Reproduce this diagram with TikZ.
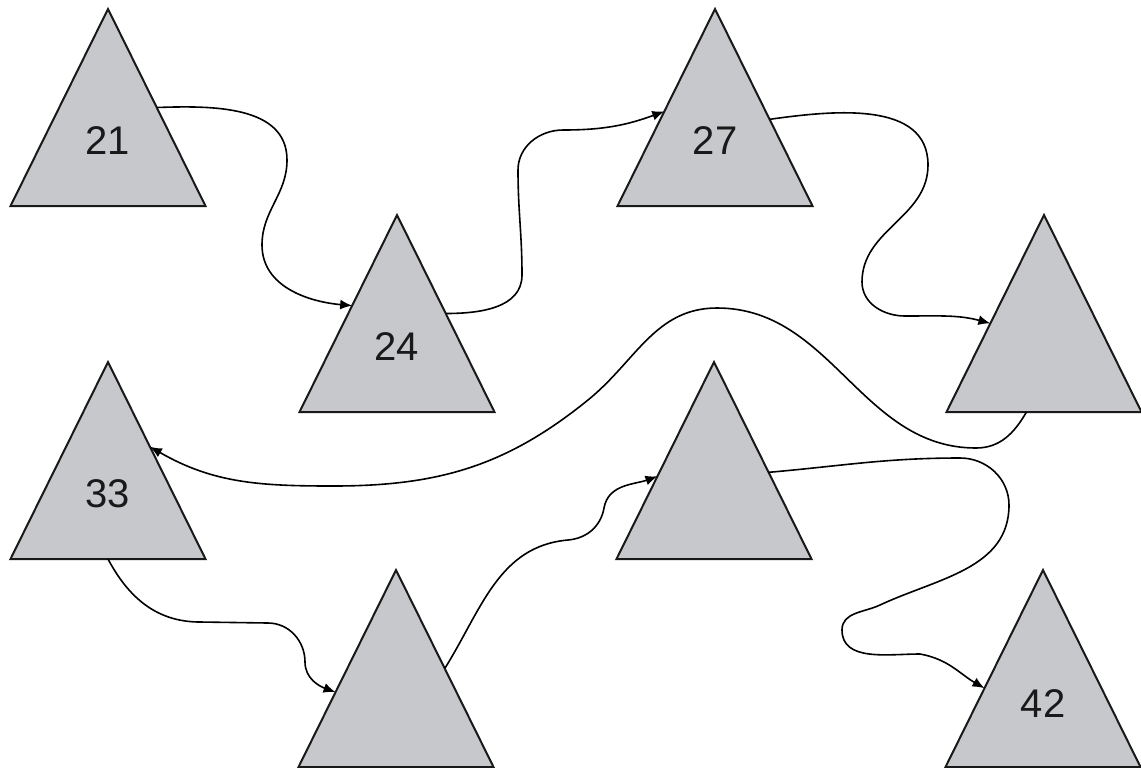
\documentclass[tikz,border=0pt]{standalone}
\usepackage{fontspec}
\setmainfont{Liberation Sans}
\usetikzlibrary{arrows.meta, shapes.geometric, calc}
\definecolor{trigray}{RGB}{198,200,203}
\tikzset{
  tri/.style={isosceles triangle, isosceles triangle stretches, shape border rotate=90,
    draw=black!90, fill=trigray, line width=1pt, minimum width=97.5pt, minimum height=98.5pt,
    inner sep=0pt, outer sep=0pt, anchor=apex},
  num/.style={font=\fontsize{20}{24}\selectfont, text=black!90},
  link/.style={-{Latex[length=6pt,width=5pt]}, line width=0.8pt},
}

\begin{document}
\begin{tikzpicture}[x=0.5pt, y=0.5pt]
  \useasboundingbox (0,0) rectangle (1141,-767);

  % Triangles (placed by their apex)
  \node[tri] (t21) at (108,-9) {};
  \node[tri] (t24) at (397,-215) {};
  \node[tri] (t27) at (715,-9) {};
  \node[tri] (t30) at (1044,-215) {};
  \node[tri] (t33) at (108,-362) {};
  \node[tri] (t39) at (714,-362) {};
  \node[tri] (t36) at (396,-570) {};
  \node[tri] (t42) at (1043,-570) {};

  % Keys
  \node[num] (n21) at ($(t21.apex)!0.67!(t21.lower side)$) {21};
  \node[num] (n24) at ($(t24.apex)!0.67!(t24.lower side)$) {24};
  \node[num] (n27) at ($(t27.apex)!0.67!(t27.lower side)$) {27};
  \node[num] (n33) at ($(t33.apex)!0.67!(t33.lower side)$) {33};
  \node[num] (n42) at ($(t42.apex)!0.68!(t42.lower side)$) {42};

  % Connectors
  \draw[link] (t21.right side) to[out=2,in=90] (287,-160) to[out=-90,in=90] (262,-245)
    to[out=-90,in=175] ($(t24.apex)!0.46!(t24.left corner)$);
  \draw[link] (t24.right side) to[out=0,in=-90] (522,-275) to[out=90,in=-90] (518,-170)
    to[out=90,in=180] (563,-130) to[out=0,in=200] ($(t27.apex)!0.52!(t27.left corner)$);
  \draw[link] ($(t27.apex)!0.56!(t27.right corner)$) to[out=8,in=90] (928,-165)
    to[out=-90,in=90] (862,-282) to[out=-90,in=180] (905,-316)
    to[out=0,in=165] ($(t30.apex)!0.55!(t30.left corner)$);
  \draw[link] ($(t30.left corner)!0.41!(t30.right corner)$) to[out=-120,in=0] (976,-448)
    to[out=180,in=0] (717,-308) to[out=180,in=39] (588,-400) to[out=219,in=0] (333,-486)
    to[out=180,in=-30] ($(t33.apex)!0.43!(t33.right corner)$);
  \draw[link] (t33.lower side) to[out=-62,in=180] (200,-622) -- (268,-623)
    to[out=0,in=90] (305,-662) to[out=-90,in=160] ($(t36.apex)!0.62!(t36.left corner)$);
  \draw[link] (t36.right side) to[out=58,in=185] (568,-540) to[out=5,in=-100] (604,-508)
    to[out=80,in=200] ($(t39.apex)!0.58!(t39.left corner)$);
  \draw[link] ($(t39.apex)!0.56!(t39.right corner)$) to[out=5,in=180] (960,-458)
    to[out=0,in=90] (1009,-505) to[out=-90,in=25] (880,-605) to[out=205,in=90] (842,-630)
    to[out=-90,in=180] (920,-654) to[out=-10,in=150] ($(t42.apex)!0.6!(t42.left corner)$);
\end{tikzpicture}
\end{document}
